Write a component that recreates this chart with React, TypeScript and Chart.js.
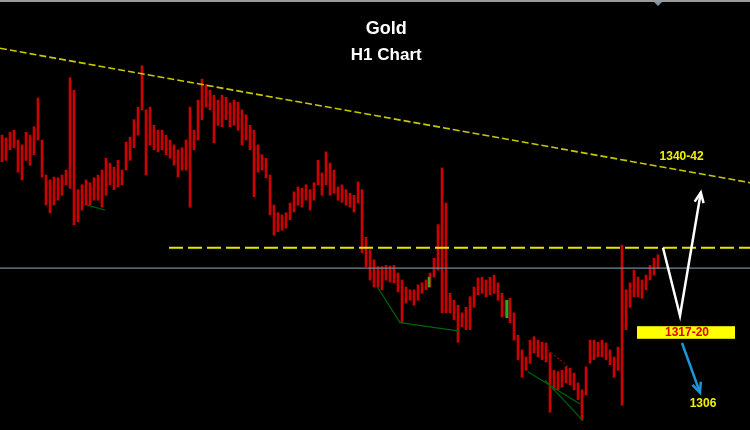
import React, { useEffect, useRef } from "react";
import { Chart, registerables } from "chart.js";

Chart.register(...registerables);

// Hourly bars: highs and lows (USD/oz), one bar per hour, left to right
const highs: number[] = [
  1346.7, 1346.3, 1347.1, 1347.4, 1346.0, 1345.3, 1347.1, 1346.7, 1347.9, 1352.0,
  1346.0, 1341.0, 1340.3, 1340.7, 1340.6, 1341.0, 1341.7, 1354.9, 1353.1, 1338.9,
  1339.6, 1340.3, 1339.9, 1340.6, 1341.0, 1341.7, 1343.4, 1342.7, 1342.1, 1343.1,
  1341.7, 1345.7, 1346.4, 1348.9, 1350.7, 1356.6, 1350.3, 1350.7, 1348.1, 1347.4,
  1347.4, 1346.7, 1346.0, 1345.3, 1344.6, 1344.9, 1346.0, 1350.7, 1347.4, 1351.7,
  1354.7, 1353.9, 1353.1, 1352.4, 1351.7, 1352.4, 1352.1, 1351.3, 1351.7, 1351.4,
  1350.3, 1349.6, 1348.1, 1347.4, 1345.3, 1343.9, 1343.4, 1341.0, 1336.7, 1335.6,
  1335.3, 1335.6, 1337.0, 1338.6, 1339.3, 1339.1, 1339.6, 1338.9, 1339.9, 1343.1,
  1341.3, 1344.3, 1342.7, 1341.7, 1339.3, 1339.6, 1338.9, 1338.4, 1338.1, 1340.0,
  1338.9, 1332.1, 1330.3, 1328.9, 1327.9, 1327.9, 1328.1, 1328.0, 1328.1, 1327.0,
  1326.0, 1325.0, 1324.6, 1324.6, 1325.3, 1325.6, 1326.0, 1327.0, 1329.1, 1333.9,
  1342.0, 1337.0, 1324.1, 1323.1, 1322.4, 1321.3, 1322.1, 1323.6, 1325.0, 1326.3,
  1326.4, 1326.0, 1326.4, 1326.7, 1325.6, 1324.1, 1323.1, 1323.4, 1321.3, 1318.1,
  1316.0, 1315.0, 1317.4, 1317.9, 1317.4, 1317.1, 1317.0, 1315.6, 1313.1, 1312.9,
  1313.1, 1313.6, 1313.4, 1312.7, 1311.3, 1310.3, 1313.6, 1317.4, 1317.4, 1317.1,
  1317.4, 1317.0, 1316.0, 1315.0, 1316.4, 1331.0, 1324.6, 1325.6, 1327.4, 1326.4,
  1326.0, 1326.7, 1328.1, 1329.1, 1329.6,
];
const lows: number[] = [
  1342.9, 1343.1, 1344.6, 1344.9, 1341.4, 1340.3, 1343.1, 1342.4, 1343.9, 1346.0,
  1340.7, 1336.7, 1335.6, 1336.7, 1337.4, 1338.1, 1339.6, 1339.1, 1333.9, 1334.3,
  1336.0, 1336.7, 1336.7, 1337.4, 1337.4, 1336.4, 1338.1, 1339.6, 1338.9, 1339.3,
  1339.6, 1341.7, 1343.1, 1344.9, 1346.7, 1350.3, 1341.0, 1345.3, 1344.6, 1344.3,
  1344.6, 1343.9, 1343.4, 1342.4, 1340.7, 1341.7, 1341.7, 1336.4, 1344.6, 1346.0,
  1348.9, 1350.7, 1350.3, 1345.6, 1348.1, 1347.9, 1348.9, 1347.9, 1348.1, 1347.4,
  1345.3, 1346.0, 1344.6, 1337.9, 1341.4, 1341.7, 1340.6, 1335.3, 1332.4, 1332.9,
  1333.1, 1333.4, 1334.6, 1335.7, 1336.7, 1336.4, 1337.4, 1336.0, 1337.4, 1339.6,
  1338.1, 1339.6, 1338.1, 1338.4, 1337.4, 1337.1, 1336.7, 1336.4, 1335.7, 1337.0,
  1329.9, 1327.9, 1326.0, 1325.0, 1325.0, 1324.6, 1326.0, 1325.7, 1325.6, 1324.3,
  1319.9, 1322.7, 1323.1, 1322.4, 1323.1, 1324.1, 1324.6, 1325.0, 1326.4, 1327.4,
  1321.3, 1321.3, 1321.3, 1320.3, 1317.1, 1319.3, 1318.9, 1318.9, 1322.1, 1323.9,
  1324.1, 1323.6, 1323.9, 1324.1, 1323.1, 1320.7, 1320.7, 1319.9, 1317.4, 1314.6,
  1312.1, 1313.1, 1314.1, 1315.6, 1315.0, 1314.6, 1314.3, 1307.1, 1310.3, 1310.3,
  1310.7, 1311.3, 1311.0, 1310.3, 1308.9, 1306.0, 1309.6, 1314.1, 1314.6, 1315.0,
  1315.0, 1314.6, 1313.9, 1312.1, 1313.1, 1308.1, 1318.9, 1322.1, 1323.6, 1323.6,
  1323.4, 1324.6, 1326.0, 1326.7, 1327.7,
];

// Scale ranges (price and bar index)
const priceMin = 1304.57;
const priceMax = 1366;
const indexMax = 187.5;

// Drawn studies (bar index, price)
const trendX = [0, 187.5];
const trendY = [1359.1, 1339.9];
const resistanceX = [42.25, 187.5];
const resistanceLevel = 1330.6;
const bidLevel = 1327.7;
const support1X = [21.75, 26.25];
const support1Y = [1336.7, 1336.0];
const support2X = [94.25, 100, 115];
const support2Y = [1325.1, 1319.9, 1318.7];
const wedgeAX = [132, 145];
const wedgeAY = [1312.9, 1308.3];
const wedgeBX = [136.25, 145.75];
const wedgeBY = [1311.7, 1305.9];
const dottedX = [137, 142];
const dottedY = [1316.0, 1313.6];
const greenBarX = [107.25, 126.75];
const greenBarHigh = [1326.4, 1323.1];
const greenBarLow = [1325.0, 1320.6];
const upPathX = [165.75, 170, 175.2];
const upPathY = [1330.6, 1320.9, 1338.5];
const downPathX = [170.5, 175];
const downPathY = [1317.0, 1309.9];

// Text labels
const titleText = "Gold";
const subtitleText = "H1 Chart";
const upTargetText = "1340-42";
const upTargetPos = [170.4, 1343.6];
const pivotText = "1317-20";
const pivotBoxX = [159.25, 183.75];
const pivotBoxY = [1319.4, 1317.6];
const downTargetText = "1306";
const downTargetPos = [175.75, 1308.4];

const pts = (xs: number[], ys: number[]) => xs.map((x, i) => ({ x, y: ys[i] }));

const overlay = {
  id: "overlay",
  afterDatasetsDraw(chart: any) {
    const ctx = chart.ctx as CanvasRenderingContext2D;
    const sx = chart.scales.x;
    const sy = chart.scales.y;
    ctx.save();
    // arrowheads
    chart.data.datasets.forEach((ds: any, i: number) => {
      if (!ds.arrowHead) return;
      const d = chart.getDatasetMeta(i).data;
      const a = d[d.length - 1];
      const b = d[d.length - 2];
      const ang = Math.atan2(a.y - b.y, a.x - b.x);
      const len = 11;
      ctx.strokeStyle = ds.borderColor;
      ctx.lineWidth = ds.borderWidth;
      ctx.lineJoin = "miter";
      ctx.beginPath();
      ctx.moveTo(a.x - len * Math.cos(ang - 0.42), a.y - len * Math.sin(ang - 0.42));
      ctx.lineTo(a.x, a.y);
      ctx.lineTo(a.x - len * Math.cos(ang + 0.42), a.y - len * Math.sin(ang + 0.42));
      ctx.stroke();
    });
    // top frame line and shift marker
    ctx.fillStyle = "#9a9a9a";
    ctx.fillRect(0, 0, chart.width, 2);
    ctx.fillStyle = "#7f93a8";
    const tx = chart.width - 92;
    ctx.beginPath();
    ctx.moveTo(tx - 4, 2);
    ctx.lineTo(tx + 4, 2);
    ctx.lineTo(tx, 6);
    ctx.closePath();
    ctx.fill();
    // titles
    ctx.textAlign = "center";
    ctx.textBaseline = "middle";
    ctx.fillStyle = "#ffffff";
    const cx = chart.width * 0.515;
    ctx.font = "bold 18px 'Liberation Sans', Arial, sans-serif";
    ctx.fillText(titleText, cx, 29);
    ctx.font = "bold 17px 'Liberation Sans', Arial, sans-serif";
    ctx.fillText(subtitleText, cx, 55);
    // level labels
    ctx.font = "bold 12px 'Liberation Sans', Arial, sans-serif";
    ctx.fillStyle = "#f0f000";
    ctx.fillText(upTargetText, sx.getPixelForValue(upTargetPos[0]), sy.getPixelForValue(upTargetPos[1]));
    ctx.fillText(downTargetText, sx.getPixelForValue(downTargetPos[0]), sy.getPixelForValue(downTargetPos[1]));
    const bx0 = sx.getPixelForValue(pivotBoxX[0]);
    const bx1 = sx.getPixelForValue(pivotBoxX[1]);
    const by0 = sy.getPixelForValue(pivotBoxY[0]);
    const by1 = sy.getPixelForValue(pivotBoxY[1]);
    ctx.fillStyle = "#ffff00";
    ctx.fillRect(bx0, by0, bx1 - bx0, by1 - by0);
    ctx.fillStyle = "#e00000";
    ctx.fillText(pivotText, (bx0 + bx1) / 2 + 1, (by0 + by1) / 2 + 0.5);
    ctx.restore();
  },
};

export default function App() {
  const ref = useRef<HTMLCanvasElement>(null);
  useEffect(() => {
    document.body.style.margin = "0";
    document.body.style.background = "#000";
    const line = (data: any[], color: string, width: number, dash: number[] = [], extra: any = {}) => ({
      type: "line" as const,
      data,
      borderColor: color,
      borderWidth: width,
      borderDash: dash,
      pointRadius: 0,
      fill: false,
      tension: 0,
      ...extra,
    });
    const chart = new Chart(ref.current!, {
      type: "bar",
      data: {
        datasets: [
          line(pts(upPathX, upPathY), "#ffffff", 2.5, [], { arrowHead: true, borderJoinStyle: "miter" }),
          line(pts(downPathX, downPathY), "#1c96d6", 2.5, [], { arrowHead: true }),
          line(pts(trendX, trendY), "#c8c800", 1.6, [7, 3]),
          line(resistanceX.map((x) => ({ x, y: resistanceLevel })), "#e6e600", 2, [14, 5]),
          line([{ x: 0, y: bidLevel }, { x: indexMax, y: bidLevel }], "#75889a", 1.2),
          line(pts(support1X, support1Y), "#006400", 1.2),
          line(pts(support2X, support2Y), "#006400", 1.2),
          line(pts(wedgeAX, wedgeAY), "#006400", 1.2),
          line(pts(wedgeBX, wedgeBY), "#006400", 1.2),
          line(pts(dottedX, dottedY), "#8b0000", 1.2, [2, 2]),
          {
            type: "bar" as const,
            data: greenBarX.map((x, i) => ({ x, y: [greenBarLow[i], greenBarHigh[i]] })),
            backgroundColor: "#22b022",
            barThickness: 2,
            grouped: false,
          },
          {
            type: "bar" as const,
            data: highs.map((h, i) => ({ x: i + 0.5, y: [lows[i], h] })),
            backgroundColor: "#cc0000",
            barThickness: 2,
            grouped: false,
          },
        ] as any,
      },
      options: {
        responsive: false,
        animation: false,
        events: [],
        layout: { padding: 0 },
        plugins: { legend: { display: false }, tooltip: { enabled: false }, title: { display: false } },
        scales: {
          x: { type: "linear", min: 0, max: indexMax, offset: false, display: false },
          y: { type: "linear", min: priceMin, max: priceMax, display: false },
        },
      } as any,
      plugins: [overlay],
    });
    return () => chart.destroy();
  }, []);
  return (
    <div style={{ width: 750, height: 430, background: "#000" }}>
      <canvas ref={ref} width={750} height={430} style={{ display: "block" }} />
    </div>
  );
}
